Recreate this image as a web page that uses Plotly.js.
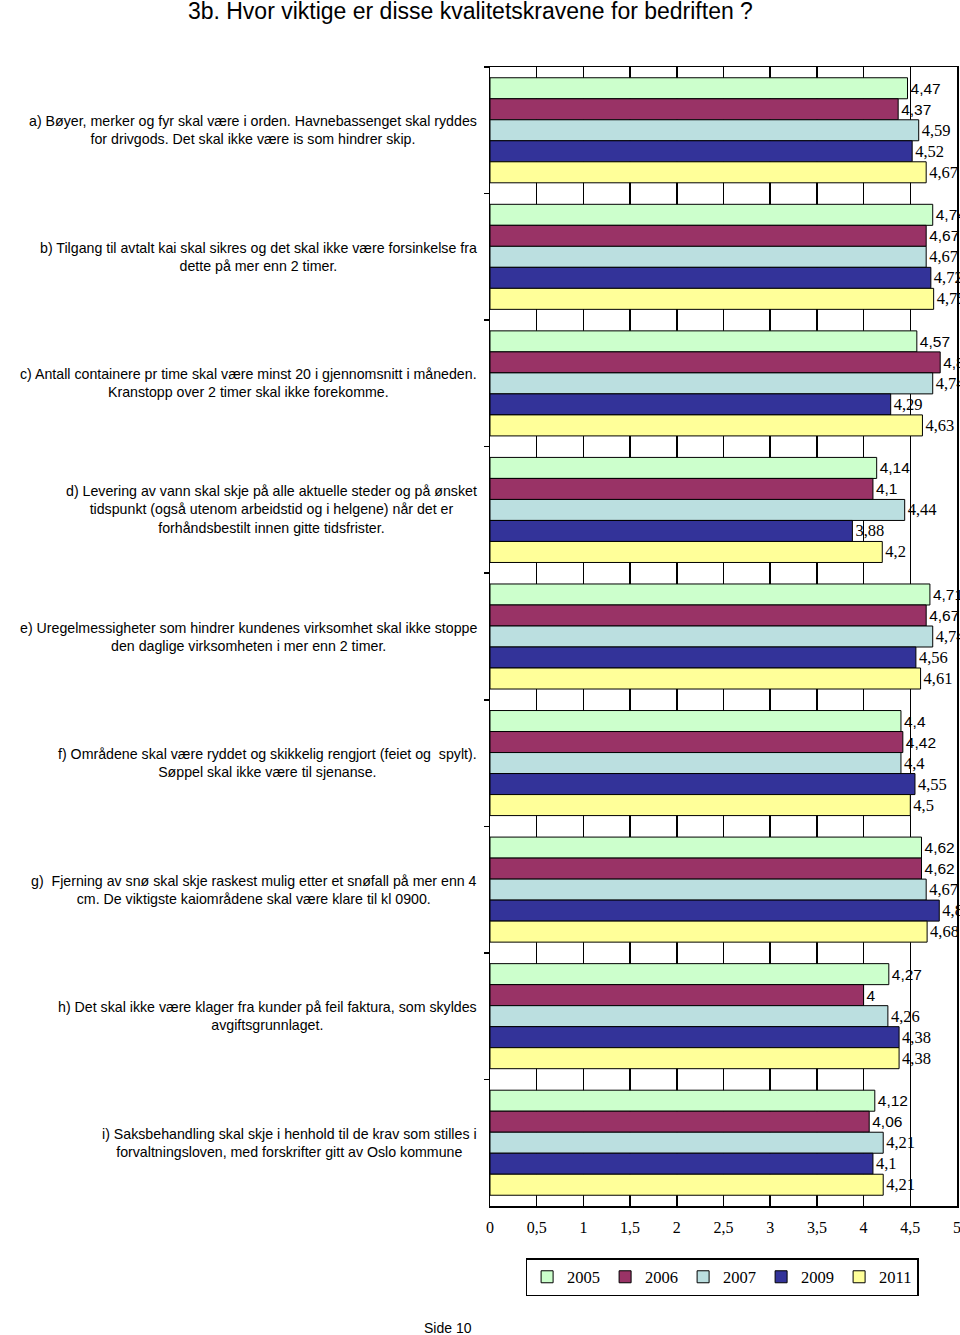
<!DOCTYPE html>
<html>
<head>
<meta charset="utf-8">
<script src="https://cdn.plot.ly/plotly-3.0.1.min.js"></script>
<style>
html,body{margin:0;padding:0;background:#fff;}
#chart{width:960px;height:1335px;}
</style>
</head>
<body>
<div id="chart"></div>
<script>
const categories = [
  "a) Bøyer, merker og fyr skal være i orden. Havnebassenget skal ryddes<br>for drivgods. Det skal ikke være is som hindrer skip.",
  "b) Tilgang til avtalt kai skal sikres og det skal ikke være forsinkelse fra<br>dette på mer enn 2 timer.",
  "c) Antall containere pr time skal være minst 20 i gjennomsnitt i måneden.<br>Kranstopp over 2 timer skal ikke forekomme.",
  "d) Levering av vann skal skje på alle aktuelle steder og på ønsket<br>tidspunkt (også utenom arbeidstid og i helgene) når det er<br>forhåndsbestilt innen gitte tidsfrister.",
  "e) Uregelmessigheter som hindrer kundenes virksomhet skal ikke stoppe<br>den daglige virksomheten i mer enn 2 timer.",
  "f) Områdene skal være ryddet og skikkelig rengjort (feiet og  spylt).<br>Søppel skal ikke være til sjenanse.",
  "g)  Fjerning av snø skal skje raskest mulig etter et snøfall på mer enn 4<br>cm. De viktigste kaiområdene skal være klare til kl 0900.",
  "h) Det skal ikke være klager fra kunder på feil faktura, som skyldes<br>avgiftsgrunnlaget.",
  "i) Saksbehandling skal skje i henhold til de krav som stilles i<br>forvaltningsloven, med forskrifter gitt av Oslo kommune"
];

const seriesNames = ["2005", "2006", "2007", "2009", "2011"];

const values2005 = [4.47, 4.74, 4.57, 4.14, 4.71, 4.4, 4.62, 4.27, 4.12];
const values2006 = [4.37, 4.67, 4.82, 4.1, 4.67, 4.42, 4.62, 4, 4.06];
const values2007 = [4.59, 4.67, 4.74, 4.44, 4.74, 4.4, 4.67, 4.26, 4.21];
const values2009 = [4.52, 4.72, 4.29, 3.88, 4.56, 4.55, 4.81, 4.38, 4.1];
const values2011 = [4.67, 4.75, 4.63, 4.2, 4.61, 4.5, 4.68, 4.38, 4.21];

const xTickVals = [0, 0.5, 1, 1.5, 2, 2.5, 3, 3.5, 4, 4.5, 5];
const xTickText = ["0", "0,5", "1", "1,5", "2", "2,5", "3", "3,5", "4", "4,5", "5"];

const titleText = "3b. Hvor viktige er disse kvalitetskravene for bedriften ?";
const footerText = "Side 10";

const allValues = [values2005, values2006, values2007, values2009, values2011];
const colors = ["#CCFFCC", "#993366", "#BBDFE0", "#333399", "#FFFF99"];
const SANS = "Liberation Sans, Arial, sans-serif";
const SERIF = "Liberation Serif, Times New Roman, serif";
const labelFonts = [
  {family: SANS, size: 15.5, color: "#000"},
  {family: SANS, size: 15.5, color: "#000"},
  {family: SERIF, size: 16.5, color: "#000"},
  {family: SERIF, size: 16.5, color: "#000"},
  {family: SERIF, size: 16.5, color: "#000"}
];

const fmt = v => String(v).replace('.', ',');

const traces = allValues.map((vals, i) => ({
  type: 'bar',
  orientation: 'h',
  name: seriesNames[i],
  y: categories,
  x: vals,
  text: vals.map(fmt),
  textposition: 'outside',
  textangle: 0,
  constraintext: 'none',
  cliponaxis: false,
  textfont: labelFonts[i],
  marker: {color: colors[i], line: {color: '#000', width: 1}},
  hoverinfo: 'x+name'
}));

const annotations = categories.map(c => ({
  xref: 'paper', yref: 'y',
  x: -0.0236, y: c,
  xanchor: 'right', yanchor: 'middle',
  align: 'center',
  text: c,
  showarrow: false,
  font: {family: SANS, size: 14.2, color: "#000"}
}));

annotations.push({
  xref: 'paper', yref: 'paper',
  x: -0.09, y: -0.107,
  xanchor: 'center', yanchor: 'middle',
  text: footerText,
  showarrow: false,
  font: {family: SANS, size: 14, color: "#000"}
});

const layout = {
  width: 960,
  height: 1335,
  margin: {l: 490, r: 3, t: 67, b: 129, pad: 0},
  paper_bgcolor: '#fff',
  plot_bgcolor: '#fff',
  barmode: 'group',
  bargap: 0.17,
  bargroupgap: 0,
  showlegend: true,
  title: {
    text: titleText,
    xref: 'container', yref: 'container',
    x: 0.49, y: 1 - 11/1335,
    xanchor: 'center', yanchor: 'middle',
    font: {family: SANS, size: 23, color: "#000"}
  },
  xaxis: {
    range: [0, 5],
    tickvals: xTickVals,
    ticktext: xTickText,
    showgrid: true,
    gridcolor: '#000',
    gridwidth: 1.5,
    showline: true,
    linecolor: '#000',
    linewidth: 1.5,
    mirror: true,
    zeroline: false,
    ticks: '',
    ticklabelstandoff: 6,
    ticklabeloverflow: 'allow',
    tickfont: {family: SERIF, size: 16, color: "#000"}
  },
  yaxis: {
    type: 'category',
    autorange: 'reversed',
    showticklabels: false,
    ticks: 'outside',
    tickson: 'boundaries',
    ticklen: 5,
    tickcolor: '#000',
    tickwidth: 1.5,
    showgrid: false,
    showline: true,
    linecolor: '#000',
    linewidth: 1.5,
    mirror: true,
    zeroline: false
  },
  legend: {
    orientation: 'h',
    x: 0.497, xanchor: 'center',
    y: -0.0457, yanchor: 'top',
    bordercolor: '#000',
    borderwidth: 1.5,
    bgcolor: '#fff',
    itemwidth: 30,
    font: {family: SERIF, size: 16.5, color: "#000"}
  },
  annotations: annotations
};

Plotly.newPlot('chart', traces, layout, {displayModeBar: false, staticPlot: true});
</script>
</body>
</html>
